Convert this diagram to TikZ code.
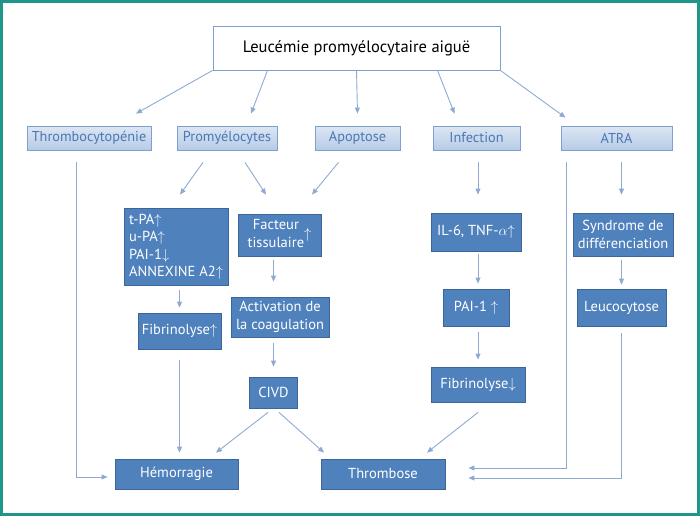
\documentclass[tikz,border=0pt]{standalone}
\usepackage{fontspec}
\setmainfont{PT Sans}
\usetikzlibrary{arrows.meta}

\definecolor{frameteal}{HTML}{20968A}
\definecolor{boxblue}{HTML}{4F81BD}
\definecolor{boxedge}{HTML}{3A6699}
\definecolor{lineblue}{HTML}{8EAAD2}
\definecolor{catedge}{HTML}{7E9FCF}
\definecolor{cattop}{HTML}{DCE6F3}
\definecolor{catbot}{HTML}{B7CBE7}
\definecolor{cattext}{HTML}{4A78B5}

\begin{document}
\begin{tikzpicture}[x=1pt, y=-1pt,
  mainbox/.style={rectangle, draw=catedge, fill=white, line width=0.8pt,
                  minimum width=287pt, minimum height=44pt, font=\fontsize{16.5}{19}\selectfont},
  catbox/.style={rectangle, draw=catedge, top color=cattop, bottom color=catbot, line width=0.8pt,
                 minimum height=24pt, inner sep=0pt, text=cattext, font=\fontsize{14.3}{17}\selectfont},
  stepbox/.style={rectangle, draw=boxedge, fill=boxblue, line width=0.8pt, inner sep=0pt,
                  text=white, align=center, font=\fontsize{14.5}{17.5}\selectfont},
  arr/.style={-{Triangle[length=6pt, width=5pt]}, lineblue, line width=0.9pt},
]
\useasboundingbox (0,0) rectangle (700,516);
\draw[frameteal, line width=2.5pt] (1.5,1.5) rectangle (698.5,514.5);

% Top
\node[mainbox] (lpa) at (356.5,48) {Leucémie promyélocytaire aiguë};

% Categories
\node[catbox, minimum width=124pt] (thr) at (89,138) {Thrombocytopénie};
\node[catbox, minimum width=100pt] (pro) at (227,138) {Promyélocytes};
\node[catbox, minimum width=85pt] (apo) at (357.5,138) {Apoptose};
\node[catbox, minimum width=87pt] (inf) at (476.5,138) {Infection};
\node[catbox, minimum width=111pt] (atra) at (616.5,138) {ATRA};

% Left branch
\node[stepbox, align=left, minimum width=104pt, minimum height=77pt] (tpa) at (176,246.5)
  {t-PA$\uparrow$\\u-PA$\uparrow$\\PAI-1$\downarrow$\\ANNEXINE A2$\uparrow$};
\node[stepbox, minimum width=83pt, minimum height=36pt] (fibup) at (179.5,331) {Fibrinolyse$\uparrow$};

% Middle branch
\node[stepbox, minimum width=83pt, minimum height=42pt] (fact) at (279.5,235)
  {\begin{tabular}{@{}c@{}}Facteur\\tissulaire\end{tabular}$\uparrow$};
\node[stepbox, minimum width=98pt, minimum height=40pt] (act) at (280,317) {Activation de\\la coagulation};
\node[stepbox, minimum width=48pt, minimum height=31pt] (civd) at (273.5,392.5) {CIVD};

% Infection branch
\node[stepbox, minimum width=90pt, minimum height=38pt] (il6) at (476,232) {IL-6, TNF-$\alpha{\uparrow}$};
\node[stepbox, minimum width=66pt, minimum height=37pt] (pai) at (476,307.5) {PAI-1 $\uparrow$};
\node[stepbox, minimum width=94pt, minimum height=35pt] (fibdn) at (478,384.5) {Fibrinolyse$\downarrow$};

% ATRA branch
\node[stepbox, minimum width=100pt, minimum height=43pt] (synd) at (623,234.5) {Syndrome de\\différenciation};
\node[stepbox, minimum width=89pt, minimum height=37pt] (leuco) at (621.5,307.5) {Leucocytose};

% Outcomes
\node[stepbox, minimum width=123pt, minimum height=30pt] (hem) at (176.5,474) {Hémorragie};
\node[stepbox, minimum width=124pt, minimum height=30pt] (thro) at (383,474) {Thrombose};

% From the top box
\draw[arr] (lpa.south west) -- ([xshift=47pt, yshift=12pt]thr.north);
\draw[arr] ([xshift=-89pt]lpa.south) -- ([xshift=24pt, yshift=12pt]pro.north);
\draw[arr] (lpa.south) -- ([yshift=12pt]apo.north);
\draw[arr] ([xshift=81pt]lpa.south) -- ([xshift=-22pt, yshift=12pt]inf.north);
\draw[arr] (lpa.south east) -- ([xshift=-51pt, yshift=8pt]atra.north);

% Promyelocytes / apoptose
\draw[arr] ([xshift=-24pt, yshift=-12pt]pro.south) -- ([xshift=4pt, yshift=13pt]tpa.north);
\draw[arr] ([xshift=18pt, yshift=-12pt]pro.south) -- ([xshift=-13.5pt, yshift=19pt]fact.north);
\draw[arr] ([xshift=-19pt, yshift=-12pt]apo.south) -- ([xshift=32.5pt, yshift=19pt]fact.north);

% Vertical chains
\draw[arr, shorten <=5pt, shorten >=5pt] (fibup.north |- tpa.south) -- (fibup.north);
\draw[arr, shorten <=4pt, shorten >=15pt] (civd.north |- fact.south) -- (civd.north |- act.north);
\draw[arr, shorten <=6pt, shorten >=10pt] (civd.north |- act.south) -- (civd.north);
\draw[arr, shorten <=11pt, shorten >=6pt] (fibup.south) -- (fibup.south |- hem.north);
\draw[arr, shorten <=12pt, shorten >=18pt] (fibdn.north |- inf.south) -- (fibdn.north |- il6.north);
\draw[arr, shorten <=3pt, shorten >=5pt] (fibdn.north |- il6.south) -- (fibdn.north |- pai.north);
\draw[arr, shorten <=6pt, shorten >=7pt] (fibdn.north |- pai.south) -- (fibdn.north);
\draw[arr, shorten <=12pt, shorten >=18pt] (leuco.north |- atra.south) -- (leuco.north |- synd.north);
\draw[arr, shorten <=4pt, shorten >=4pt] (leuco.north |- synd.south) -- (leuco.north);

% Towards the outcomes
\draw[arr] ([xshift=-5.5pt, yshift=-4pt]civd.south) -- ([xshift=39.5pt, yshift=6pt]hem.north);
\draw[arr] ([xshift=5.5pt, yshift=-4pt]civd.south) -- ([xshift=-59pt, yshift=6pt]thro.north);
\draw[arr] ([yshift=-10pt]fibdn.south) -- ([xshift=44pt, yshift=6pt]thro.north);
\draw[arr] ([xshift=-13pt, yshift=-12pt]thr.south) |- ([xshift=-7pt, yshift=-3pt]hem.west);
\draw[arr] ([xshift=-50pt, yshift=-12pt]atra.south) |- ([xshift=23pt, yshift=6pt]thro.east);
\draw[arr] ([yshift=-7pt]leuco.south) |- ([xshift=23pt, yshift=-4pt]thro.east);

\end{tikzpicture}
\end{document}
